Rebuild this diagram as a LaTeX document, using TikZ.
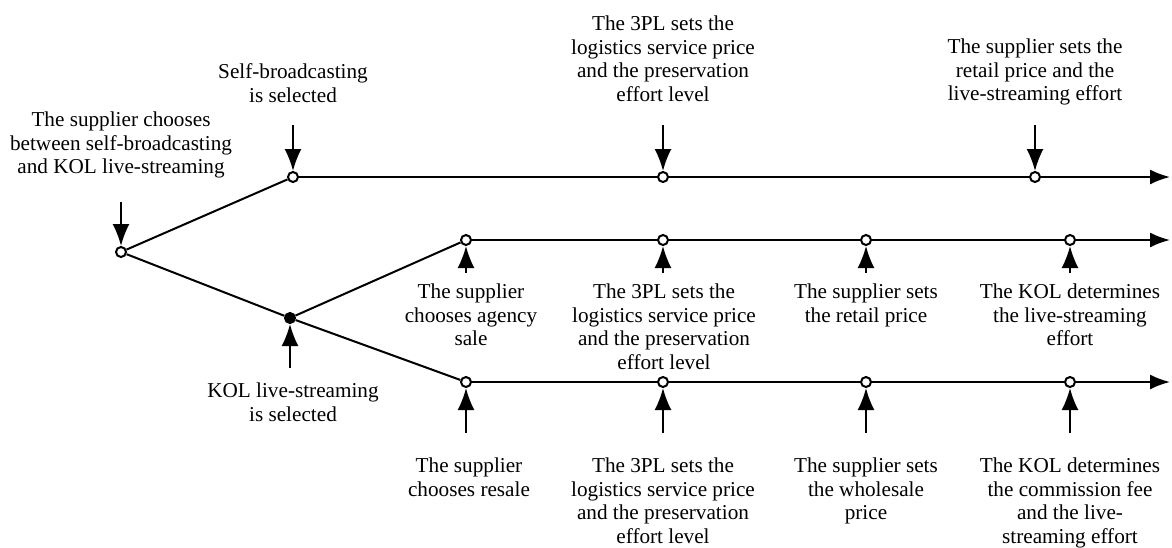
\documentclass[tikz,border=0pt]{standalone}
\usepackage{fontspec}
\setmainfont{Liberation Serif}
\usetikzlibrary{arrows.meta, positioning}
\tikzset{
    stage/.style={draw, fill=white, circle, line width=1pt, inner sep=0pt, minimum size=5pt},
    junct/.style={stage, fill=black},
    pointer/.style={line width=1pt, -{Latex[length=11pt, width=8.5pt]}},
    timeline/.style={line width=1pt, -{Latex[length=10pt, width=7.5pt]}},
    lbl/.style={align=center, inner sep=0pt, font=\fontsize{10.6}{11.75}\selectfont}
}
\begin{document}
\begin{tikzpicture}[x=0.5pt, y=-0.5pt, line width=1pt]
    \useasboundingbox (0,0) rectangle (1172,547);
    % decision points
    \node[stage] (o) at (121,252) {};
    \node[junct] (k) at (290,318) {};
    \node[stage] (s1) at (293,177) {};
    \node[stage] (s2) at (663,177) {};
    \node[stage] (s3) at (1035,177) {};
    \foreach \x/\n in {466/1, 663/2, 866/3, 1070/4}{
        \node[stage] (a\n) at (\x,240) {};
        \node[stage] (r\n) at (\x,382) {};
    }
    \coordinate (sEnd) at (1170,177);
    \coordinate (aEnd) at (1170,240);
    \coordinate (rEnd) at (1170,382);
    \draw (o) -- (s1);
    \draw (o) -- (k);
    \draw (k) -- (a1);
    \draw (k) -- (r1);
    \draw (s1) -- (s2) -- (s3);
    \draw[timeline] (s3) -- (sEnd);
    \draw (a1) -- (a2) -- (a3) -- (a4);
    \draw[timeline] (a4) -- (aEnd);
    \draw (r1) -- (r2) -- (r3) -- (r4);
    \draw[timeline] (r4) -- (rEnd);
    % labels above
    \node[lbl, anchor=north] (Lo) at (121,111) {The supplier chooses\\between self-broadcasting\\and KOL live-streaming};
    \node[lbl, anchor=north] (Ls1) at (293,63) {Self-broadcasting\\is selected};
    \node[lbl, anchor=north] (Ls2) at (663,15) {The 3PL sets the\\logistics service price\\and the preservation\\effort level};
    \node[lbl, anchor=north] (Ls3) at (1035,38) {The supplier sets the\\retail price and the\\live-streaming effort};
    % labels below
    \node[lbl, anchor=north] (Lk) at (293,382) {KOL live-streaming\\is selected};
    \node[lbl, anchor=north] (La1) at (471,283) {The supplier\\chooses agency\\sale};
    \node[lbl, anchor=north] (La2) at (664,283) {The 3PL sets the\\logistics service price\\and the preservation\\effort level};
    \node[lbl, anchor=north] (La3) at (866,283) {The supplier sets\\the retail price};
    \node[lbl, anchor=north] (La4) at (1070,283) {The KOL determines\\the live-streaming\\effort};
    \node[lbl, anchor=north] (Lr1) at (469,457) {The supplier\\chooses resale};
    \node[lbl, anchor=north] (Lr2) at (663,457) {The 3PL sets the\\logistics service price\\and the preservation\\effort level};
    \node[lbl, anchor=north] (Lr3) at (866,457) {The supplier sets\\the wholesale\\price};
    \node[lbl, anchor=north] (Lr4) at (1070,457) {The KOL determines\\the commission fee\\and the live-\\streaming effort};
    % pointers
    \coordinate (po) at (121,202);
    \coordinate (pk) at (290,368);
    \draw[pointer] (po) -- (o);
    \draw[pointer] (pk) -- (k);
    \foreach \n/\x in {s1/293, s2/663, s3/1035}{
        \coordinate (p\n) at (\x,125);
        \draw[pointer] (p\n) -- (\n);
    }
    \foreach \x/\n in {466/1, 663/2, 866/3, 1070/4}{
        \coordinate (pa\n) at (\x,273);
        \coordinate (pr\n) at (\x,433);
        \draw[pointer] (pa\n) -- (a\n);
        \draw[pointer] (pr\n) -- (r\n);
    }
\end{tikzpicture}
\end{document}
